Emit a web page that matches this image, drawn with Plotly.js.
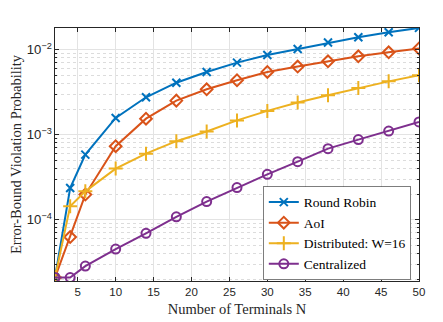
<!DOCTYPE html>
<html>
<head>
<meta charset="utf-8">
<script src="https://cdn.plot.ly/plotly-3.0.1.min.js"></script>
<style>html,body{margin:0;padding:0;background:#fff}#chart{width:443px;height:322px}</style>
</head>
<body>
<div id="chart"></div>
<script>
const terminals = [2, 4, 6, 10, 14, 18, 22, 26, 30, 34, 38, 42, 46, 50];
const roundRobin = [2.08e-5, 2.35e-4, 5.82e-4, 1.57e-3, 2.75e-3, 4.08e-3, 5.46e-3, 7.03e-3, 8.64e-3, 1.017e-2, 1.21e-2, 1.40e-2, 1.60e-2, 1.80e-2];
const aoi = [2.08e-5, 6.24e-5, 1.97e-4, 7.3e-4, 1.54e-3, 2.51e-3, 3.41e-3, 4.36e-3, 5.46e-3, 6.31e-3, 7.28e-3, 8.34e-3, 9.30e-3, 1.03e-2];
const distributed = [2.08e-5, 1.44e-4, 2.15e-4, 3.98e-4, 5.97e-4, 8.37e-4, 1.09e-3, 1.47e-3, 1.90e-3, 2.38e-3, 2.90e-3, 3.53e-3, 4.23e-3, 4.99e-3];
const centralized = [2.08e-5, 2.08e-5, 2.84e-5, 4.51e-5, 6.90e-5, 1.08e-4, 1.63e-4, 2.38e-4, 3.41e-4, 4.81e-4, 6.84e-4, 8.73e-4, 1.10e-3, 1.41e-3];
const seriesNames = ['Round Robin', 'AoI', 'Distributed: W=16', 'Centralized'];
const xTitle = 'Number of Terminals N';
const yTitle = 'Error-Bound Violation Probability';

const colors = ['#0072BD', '#D95319', '#EDB120', '#7E2F8E'];
const symbols = ['x-thin-open', 'diamond-open', 'cross-thin-open', 'circle-open'];
const sizes = [8, 9, 10, 9];
const ys = [roundRobin, aoi, distributed, centralized];

const traces = ys.map((y, i) => ({
  x: terminals, y: y, name: seriesNames[i], type: 'scatter', mode: 'lines+markers',
  line: {color: colors[i], width: 2},
  marker: {symbol: symbols[i], size: sizes[i], color: colors[i], line: {color: colors[i], width: 2}}
}));

const serif = 'Liberation Serif, Times New Roman, serif';
const sans = 'Liberation Sans, Arial, sans-serif';
const axisCommon = {
  showline: true, linecolor: '#262626', linewidth: 1, mirror: 'ticks',
  ticks: 'inside', ticklen: 4, tickcolor: '#262626',
  gridcolor: '#e3e3e3', gridwidth: 1, zeroline: false
};

const layout = {
  width: 443, height: 322,
  margin: {l: 55, r: 24, t: 28, b: 41},
  paper_bgcolor: '#ffffff', plot_bgcolor: '#ffffff',
  showlegend: true,
  xaxis: Object.assign({}, axisCommon, {
    range: [2, 50], tick0: 0, dtick: 5,
    tickfont: {family: sans, size: 11.5, color: '#262626'},
    title: {text: xTitle, standoff: 7, font: {family: serif, size: 14.5, color: '#262626'}}
  }),
  yaxis: Object.assign({}, axisCommon, {
    type: 'log', range: [-4.722, -1.746], dtick: 1, exponentformat: 'power', showexponent: 'all',
    tickfont: {family: sans, size: 10.5, color: '#262626'},
    title: {text: yTitle, standoff: 1, font: {family: serif, size: 14.5, color: '#262626'}},
    minor: {ticks: 'inside', ticklen: 2, tickcolor: '#262626', showgrid: true, gridcolor: '#dcdcdc', griddash: 'dot', gridwidth: 1}
  }),
  legend: {
    x: 0.572, y: 0.003, xanchor: 'left', yanchor: 'bottom',
    bgcolor: '#ffffff', bordercolor: '#262626', borderwidth: 0.6,
    font: {family: serif, size: 13.5, color: '#000000'},
    tracegroupgap: 0, itemwidth: 30
  }
};

Plotly.newPlot('chart', traces, layout, {displayModeBar: false, staticPlot: true});
</script>
</body>
</html>
